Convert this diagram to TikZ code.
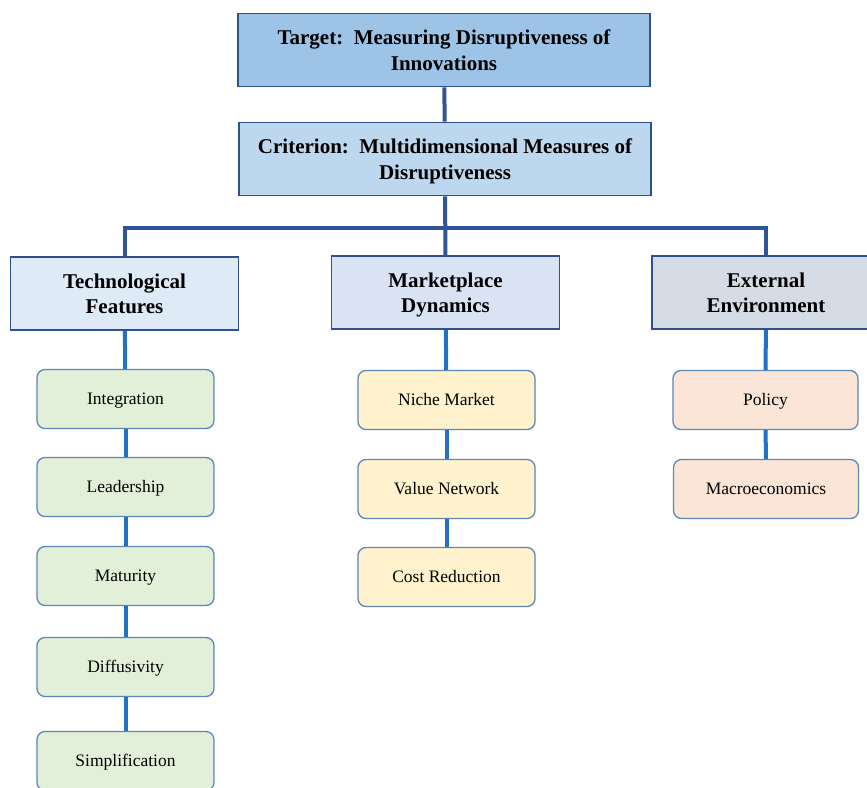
\documentclass[tikz,border=0pt]{standalone}
\usepackage{amsmath}
\usepackage{fontspec}
\setmainfont{Liberation Serif}
\usepackage{tikz}
\usepackage{xcolor}
\usetikzlibrary{arrows.meta, positioning}
\definecolor{boxline}{RGB}{47, 79, 143}
\definecolor{leafline}{RGB}{91, 134, 184}
\definecolor{trunkblue}{RGB}{47, 85, 151}
\definecolor{twigblue}{RGB}{31, 114, 196}
\definecolor{targetfill}{RGB}{157, 195, 230}
\definecolor{critfill}{RGB}{189, 215, 238}
\definecolor{techfill}{RGB}{222, 235, 247}
\definecolor{marketfill}{RGB}{218, 227, 243}
\definecolor{extfill}{RGB}{214, 220, 229}
\definecolor{greenfill}{RGB}{226, 240, 217}
\definecolor{yellowfill}{RGB}{255, 242, 204}
\definecolor{orangefill}{RGB}{251, 229, 214}

\begin{document}
\begin{tikzpicture}[
    x=1pt, y=-1pt,
    head/.style={draw=boxline, line width=1.8pt, align=center, inner sep=0pt,
        font=\fontsize{21}{25.5}\selectfont\bfseries},
    top/.style={head, minimum width=412pt, minimum height=73pt},
    cat/.style={head, minimum width=228pt, minimum height=73pt},
    leaf/.style={draw=leafline, line width=1.3pt, rounded corners=8pt, inner sep=0pt,
        minimum width=177pt, minimum height=59pt, text height=11.5pt, text depth=0pt,
        font=\fontsize{17.5}{20}\selectfont},
    trunk/.style={trunkblue, line width=4pt},
    twig/.style={twigblue, line width=4pt}
]
\useasboundingbox (0,0) rectangle (867,787);

% Top levels
\node[top, fill=targetfill] (target) at (444,50) {Target:\ \ Measuring Disruptiveness of\\\smash[b]{Innovations}};
\node[top, fill=critfill] (crit) at (445,159) {Criterion:\ \ Multidimensional Measures of\\\smash[b]{Disruptiveness}};

% Dimensions
\node[cat, fill=techfill] (tech) at (124.5,293.5) {Technological\\\smash[b]{Features}};
\node[cat, fill=marketfill] (market) at (445.5,292.5) {Marketplace\\\smash[b]{Dynamics}};
\node[cat, fill=extfill] (ext) at (766,292.5) {External\\\smash[b]{Environment}};

\coordinate (bar) at (446,228);

\draw[trunk] (target) -- (crit);
\draw[trunk] (crit) -- (market);
\draw[trunk] (tech.north) |- (bar) -| (ext.north);

% Technological features
\node[leaf, fill=greenfill] (integ) at (125.5,399) {Integration};
\node[leaf, fill=greenfill] (lead) at (125.5,487) {Leadership};
\node[leaf, fill=greenfill] (matur) at (125.5,576) {Maturity};
\node[leaf, fill=greenfill] (diffus) at (125.5,667) {Diffusivity};
\node[leaf, fill=greenfill] (simpl) at (125.5,761) {Simplification};

% Marketplace dynamics
\node[leaf, fill=yellowfill] (niche) at (446.5,400) {Niche Market};
\node[leaf, fill=yellowfill] (value) at (446.5,489) {Value Network};
\node[leaf, fill=yellowfill] (cost) at (446.5,577) {Cost Reduction};

% External environment
\node[leaf, fill=orangefill, minimum width=185pt] (policy) at (765.5,400) {Policy};
\node[leaf, fill=orangefill, minimum width=185pt] (macro) at (766,489) {Macroeconomics};

\draw[twig] (tech) -- (integ);
\draw[twig] (integ) -- (lead);
\draw[twig] (lead) -- (matur);
\draw[twig] (matur) -- (diffus);
\draw[twig] (diffus) -- (simpl);
\draw[twig] (market) -- (niche);
\draw[twig] (niche) -- (value);
\draw[twig] (value) -- (cost);
\draw[twig] (ext) -- (policy);
\draw[twig] (policy) -- (macro);

\end{tikzpicture}
\end{document}
